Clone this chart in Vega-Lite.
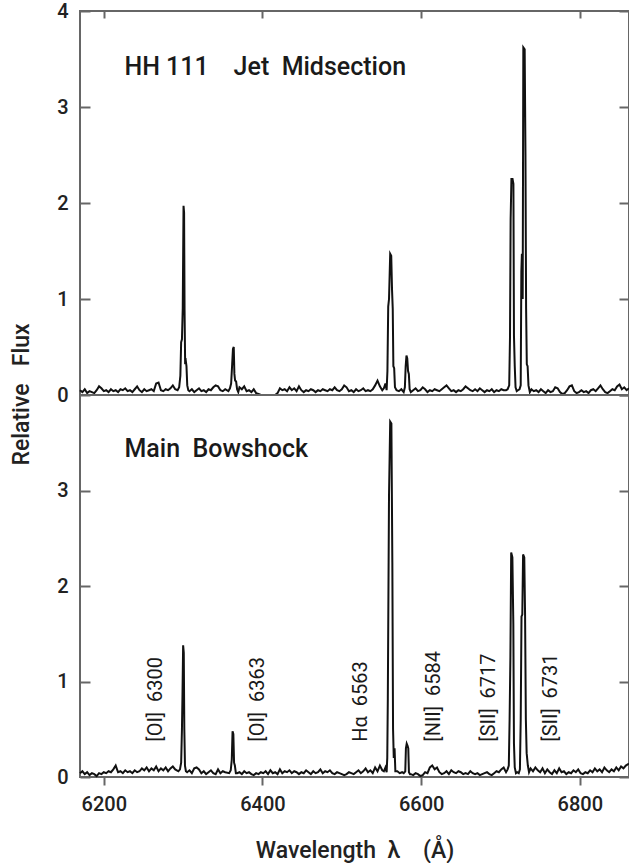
{
  "$schema": "https://vega.github.io/schema/vega-lite/v6.json",
  "background": "white",
  "padding": {"left": 9, "top": 0, "right": 0, "bottom": 0},
  "spacing": 0,
  "bounds": "flush",
  "config": {
    "view": {"stroke": "#666", "strokeWidth": 2},
    "axis": {
      "labelFont": "Roboto", "labelFontSize": 20, "labelFontWeight": 500, "labelColor": "#222",
      "tickColor": "#666", "tickWidth": 2, "domain": false, "grid": false,
      "titleFont": "Roboto", "titleFontSize": 23, "titleFontWeight": 500, "titleColor": "#222",
      "labelFlush": false
    },
    "text": {"font": "Roboto", "fontWeight": 500, "color": "#1a1a1a"}
  },
  "datasets": {
    "jet": [
      {"w":6170,"f":0.05},{"w":6173,"f":0.03},{"w":6176,"f":0.06},{"w":6179,"f":0.02},{"w":6182,"f":0.04},{"w":6185,"f":0.03},{"w":6188,"f":0.02},{"w":6191,"f":0.05},{"w":6194,"f":0.09},{"w":6197,"f":0.07},
      {"w":6200,"f":0.04},{"w":6203,"f":0.05},{"w":6206,"f":0.03},{"w":6209,"f":0.06},{"w":6212,"f":0.04},{"w":6215,"f":0.05},{"w":6218,"f":0.03},{"w":6221,"f":0.06},{"w":6224,"f":0.05},{"w":6227,"f":0.07},
      {"w":6230,"f":0.04},{"w":6233,"f":0.05},{"w":6236,"f":0.03},{"w":6239,"f":0.06},{"w":6242,"f":0.09},{"w":6245,"f":0.05},{"w":6248,"f":0.03},{"w":6251,"f":0.06},{"w":6254,"f":0.04},{"w":6257,"f":0.05},
      {"w":6260,"f":0.06},{"w":6263,"f":0.04},{"w":6266,"f":0.12},{"w":6269,"f":0.13},{"w":6272,"f":0.05},{"w":6275,"f":0.04},{"w":6278,"f":0.06},{"w":6281,"f":0.05},{"w":6284,"f":0.07},{"w":6287,"f":0.10},{"w":6290,"f":0.06},
      {"w":6293,"f":0.05},{"w":6295,"f":0.08},{"w":6296.5,"f":0.2},{"w":6297.5,"f":0.55},{"w":6298.5,"f":0.58},{"w":6299.5,"f":0.9},{"w":6300.5,"f":1.97},{"w":6301.2,"f":1.9},{"w":6301.8,"f":0.88},{"w":6302.5,"f":0.35},{"w":6303.3,"f":0.36},{"w":6304.2,"f":0.3},{"w":6305.2,"f":0.1},{"w":6306.5,"f":0.05},
      {"w":6308,"f":0.04},{"w":6311,"f":0.06},{"w":6314,"f":0.03},{"w":6317,"f":0.05},{"w":6320,"f":0.07},{"w":6323,"f":0.04},{"w":6326,"f":0.05},{"w":6329,"f":0.03},{"w":6332,"f":0.06},{"w":6335,"f":0.05},
      {"w":6338,"f":0.08},{"w":6341,"f":0.10},{"w":6344,"f":0.09},{"w":6347,"f":0.05},{"w":6350,"f":0.04},{"w":6353,"f":0.06},
      {"w":6357,"f":0.04},{"w":6359,"f":0.07},{"w":6360.5,"f":0.12},{"w":6361.8,"f":0.32},{"w":6362.8,"f":0.48},{"w":6363.8,"f":0.5},{"w":6364.6,"f":0.22},{"w":6365.5,"f":0.15},{"w":6366.8,"f":0.14},{"w":6368,"f":0.06},{"w":6369.5,"f":0.03},
      {"w":6371,"f":0.08},{"w":6374,"f":0.06},{"w":6377,"f":0.09},{"w":6380,"f":0.04},{"w":6383,"f":0.05},{"w":6386,"f":0.03},{"w":6389,"f":0.06},{"w":6392,"f":0.02},{"w":6395,"f":0.01},{"w":6398,"f":0},
      {"w":6401,"f":0},{"w":6404,"f":0},{"w":6407,"f":0},{"w":6410,"f":0},{"w":6413,"f":0},{"w":6416,"f":0},{"w":6419,"f":0.02},{"w":6422,"f":0.07},{"w":6425,"f":0.05},{"w":6428,"f":0.06},
      {"w":6431,"f":0.04},{"w":6434,"f":0.08},{"w":6437,"f":0.05},{"w":6440,"f":0.07},{"w":6443,"f":0.04},{"w":6446,"f":0.09},{"w":6449,"f":0.05},{"w":6452,"f":0.03},{"w":6455,"f":0.05},{"w":6458,"f":0.04},
      {"w":6461,"f":0.06},{"w":6464,"f":0.05},{"w":6467,"f":0.03},{"w":6470,"f":0.05},{"w":6473,"f":0.04},{"w":6476,"f":0.06},{"w":6479,"f":0.05},{"w":6482,"f":0.04},{"w":6485,"f":0.06},{"w":6488,"f":0.05},
      {"w":6491,"f":0.08},{"w":6494,"f":0.05},{"w":6497,"f":0.04},{"w":6500,"f":0.06},{"w":6503,"f":0.10},{"w":6506,"f":0.08},{"w":6509,"f":0.04},{"w":6512,"f":0.05},{"w":6515,"f":0.03},{"w":6518,"f":0.06},
      {"w":6521,"f":0.04},{"w":6524,"f":0.05},{"w":6527,"f":0.07},{"w":6530,"f":0.04},{"w":6533,"f":0.05},{"w":6536,"f":0.04},{"w":6539,"f":0.06},{"w":6542,"f":0.10},{"w":6545,"f":0.15},{"w":6548,"f":0.09},{"w":6551,"f":0.05},
      {"w":6553,"f":0.07},{"w":6555,"f":0.12},{"w":6556.5,"f":0.05},{"w":6557.5,"f":0.25},{"w":6558.5,"f":0.92},{"w":6559.5,"f":1.0},{"w":6561,"f":1.47},{"w":6562.3,"f":1.45},{"w":6563.3,"f":1.1},{"w":6564.2,"f":0.9},{"w":6565,"f":0.3},{"w":6566,"f":0.28},{"w":6567,"f":0.08},
      {"w":6569,"f":0.05},{"w":6572,"f":0.04},{"w":6575,"f":0.06},
      {"w":6578,"f":0.03},{"w":6579.5,"f":0.08},{"w":6580.5,"f":0.3},{"w":6581.5,"f":0.41},{"w":6582.5,"f":0.38},{"w":6583.5,"f":0.25},{"w":6584.5,"f":0.22},{"w":6585.5,"f":0.06},{"w":6587,"f":0.03},
      {"w":6590,"f":0.05},{"w":6593,"f":0.07},{"w":6596,"f":0.04},{"w":6599,"f":0.05},{"w":6602,"f":0.08},{"w":6605,"f":0.06},{"w":6608,"f":0.03},{"w":6611,"f":0.05},{"w":6614,"f":0.04},{"w":6617,"f":0.06},
      {"w":6620,"f":0.05},{"w":6623,"f":0.04},{"w":6626,"f":0.06},{"w":6629,"f":0.08},{"w":6632,"f":0.10},{"w":6635,"f":0.07},{"w":6638,"f":0.04},{"w":6641,"f":0.05},{"w":6644,"f":0.03},{"w":6647,"f":0.05},
      {"w":6650,"f":0.04},{"w":6653,"f":0.06},{"w":6656,"f":0.09},{"w":6659,"f":0.07},{"w":6662,"f":0.05},{"w":6665,"f":0.04},{"w":6668,"f":0.06},{"w":6671,"f":0.04},{"w":6674,"f":0.07},{"w":6677,"f":0.05},
      {"w":6680,"f":0.03},{"w":6683,"f":0.05},{"w":6686,"f":0.04},{"w":6689,"f":0.06},{"w":6692,"f":0.03},{"w":6695,"f":0.05},{"w":6698,"f":0.04},{"w":6701,"f":0.06},{"w":6704,"f":0.05},
      {"w":6707,"f":0.05},{"w":6709,"f":0.06},{"w":6711,"f":0.1},{"w":6712,"f":0.6},{"w":6712.8,"f":1.83},{"w":6713.8,"f":2.25},{"w":6715.2,"f":2.25},{"w":6716.3,"f":2.2},{"w":6717,"f":0.62},{"w":6718,"f":0.3},{"w":6719,"f":0.08},{"w":6720.5,"f":0.04},
      {"w":6722,"f":0.05},{"w":6724,"f":0.06},{"w":6725.5,"f":0.1},{"w":6726.3,"f":1.28},{"w":6727,"f":1.47},{"w":6728,"f":1.0},{"w":6728.8,"f":3.62},{"w":6730.5,"f":3.6},{"w":6731.5,"f":2.5},{"w":6732.3,"f":0.9},{"w":6733.2,"f":0.32},{"w":6734.2,"f":0.3},{"w":6735.3,"f":0.1},{"w":6737,"f":0.03},
      {"w":6739,"f":0.06},{"w":6742,"f":0.04},{"w":6745,"f":0.05},{"w":6748,"f":0.03},{"w":6751,"f":0.06},{"w":6754,"f":0.04},{"w":6757,"f":0.02},{"w":6760,"f":0.05},{"w":6763,"f":0.03},{"w":6766,"f":0.04},
      {"w":6769,"f":0.08},{"w":6772,"f":0.07},{"w":6775,"f":0.03},{"w":6778,"f":0.01},{"w":6781,"f":0.02},{"w":6784,"f":0.05},{"w":6787,"f":0.09},{"w":6790,"f":0.10},{"w":6793,"f":0.04},{"w":6796,"f":0.02},
      {"w":6799,"f":0.03},{"w":6802,"f":0.05},{"w":6805,"f":0.03},{"w":6808,"f":0.04},{"w":6811,"f":0.02},{"w":6814,"f":0.05},{"w":6817,"f":0.06},{"w":6820,"f":0.04},{"w":6823,"f":0.07},{"w":6826,"f":0.10},
      {"w":6829,"f":0.06},{"w":6832,"f":0.03},{"w":6835,"f":0.02},{"w":6838,"f":0.04},{"w":6841,"f":0.06},{"w":6844,"f":0.05},{"w":6847,"f":0.09},{"w":6850,"f":0.11},{"w":6853,"f":0.06},{"w":6856,"f":0.08},{"w":6859,"f":0.05},{"w":6862,"f":0.07}
    ],
    "bow": [
      {"w":6170,"f":0.04},{"w":6173,"f":0.06},{"w":6176,"f":0.03},{"w":6179,"f":0.05},{"w":6182,"f":0.02},{"w":6185,"f":0.04},{"w":6188,"f":0.03},{"w":6191,"f":0.01},{"w":6194,"f":0.04},{"w":6197,"f":0.03},
      {"w":6200,"f":0.05},{"w":6203,"f":0.04},{"w":6206,"f":0.06},{"w":6209,"f":0.05},{"w":6212,"f":0.08},{"w":6215,"f":0.12},{"w":6218,"f":0.05},{"w":6221,"f":0.06},{"w":6224,"f":0.04},{"w":6227,"f":0.07},
      {"w":6230,"f":0.05},{"w":6233,"f":0.06},{"w":6236,"f":0.04},{"w":6239,"f":0.07},{"w":6242,"f":0.05},{"w":6245,"f":0.06},{"w":6248,"f":0.09},{"w":6251,"f":0.07},{"w":6254,"f":0.10},{"w":6257,"f":0.06},
      {"w":6260,"f":0.09},{"w":6263,"f":0.07},{"w":6266,"f":0.11},{"w":6269,"f":0.06},{"w":6272,"f":0.09},{"w":6275,"f":0.07},{"w":6278,"f":0.10},{"w":6281,"f":0.06},{"w":6284,"f":0.09},{"w":6287,"f":0.11},{"w":6290,"f":0.08},
      {"w":6294,"f":0.06},{"w":6296,"f":0.08},{"w":6297.5,"f":0.15},{"w":6298.5,"f":0.5},{"w":6299.2,"f":0.87},{"w":6300,"f":1.38},{"w":6300.8,"f":1.3},{"w":6301.5,"f":0.5},{"w":6302.3,"f":0.12},{"w":6303.5,"f":0.06},
      {"w":6305,"f":0.05},{"w":6308,"f":0.07},{"w":6311,"f":0.04},{"w":6314,"f":0.09},{"w":6317,"f":0.10},{"w":6320,"f":0.08},{"w":6323,"f":0.04},{"w":6326,"f":0.06},{"w":6329,"f":0.03},{"w":6332,"f":0.05},
      {"w":6335,"f":0.07},{"w":6338,"f":0.04},{"w":6341,"f":0.03},{"w":6344,"f":0.08},{"w":6347,"f":0.04},{"w":6350,"f":0.06},{"w":6353,"f":0.05},
      {"w":6358,"f":0.04},{"w":6360,"f":0.07},{"w":6361.3,"f":0.18},{"w":6362.3,"f":0.48},{"w":6363.3,"f":0.45},{"w":6364.2,"f":0.15},{"w":6365.2,"f":0.12},{"w":6366.5,"f":0.04},
      {"w":6368,"f":0.04},{"w":6371,"f":0.05},{"w":6374,"f":0.03},{"w":6377,"f":0.06},{"w":6380,"f":0.04},{"w":6383,"f":0.05},{"w":6386,"f":0.03},{"w":6389,"f":0.02},{"w":6392,"f":0.04},{"w":6395,"f":0.03},
      {"w":6398,"f":0.05},{"w":6401,"f":0.04},{"w":6404,"f":0.06},{"w":6407,"f":0.03},{"w":6410,"f":0.07},{"w":6413,"f":0.04},{"w":6416,"f":0.05},{"w":6419,"f":0.03},{"w":6422,"f":0.08},{"w":6425,"f":0.04},
      {"w":6428,"f":0.06},{"w":6431,"f":0.05},{"w":6434,"f":0.07},{"w":6437,"f":0.04},{"w":6440,"f":0.06},{"w":6443,"f":0.05},{"w":6446,"f":0.03},{"w":6449,"f":0.05},{"w":6452,"f":0.04},{"w":6455,"f":0.07},
      {"w":6458,"f":0.05},{"w":6461,"f":0.03},{"w":6464,"f":0.06},{"w":6467,"f":0.04},{"w":6470,"f":0.05},{"w":6473,"f":0.08},{"w":6476,"f":0.04},{"w":6479,"f":0.06},{"w":6482,"f":0.05},{"w":6485,"f":0.07},
      {"w":6488,"f":0.04},{"w":6491,"f":0.03},{"w":6494,"f":0.05},{"w":6497,"f":0.04},{"w":6500,"f":0.03},{"w":6503,"f":0.02},{"w":6506,"f":0.03},{"w":6509,"f":0.05},{"w":6512,"f":0.04},{"w":6515,"f":0.03},
      {"w":6518,"f":0.05},{"w":6521,"f":0.07},{"w":6524,"f":0.04},{"w":6527,"f":0.06},{"w":6530,"f":0.09},{"w":6533,"f":0.05},{"w":6536,"f":0.07},{"w":6539,"f":0.04},{"w":6542,"f":0.10},{"w":6545,"f":0.06},{"w":6548,"f":0.12},{"w":6551,"f":0.07},
      {"w":6553,"f":0.06},{"w":6555,"f":0.1},{"w":6556.5,"f":0.05},{"w":6557.3,"f":0.2},{"w":6558,"f":0.82},{"w":6559.5,"f":2.95},{"w":6561,"f":3.72},{"w":6562.5,"f":3.7},{"w":6563.7,"f":2.25},{"w":6564.6,"f":0.5},{"w":6565.5,"f":0.2},{"w":6566.5,"f":0.3},{"w":6567.5,"f":0.06},
      {"w":6570,"f":0.06},{"w":6573,"f":0.04},{"w":6576,"f":0.05},
      {"w":6578,"f":0.04},{"w":6580,"f":0.06},{"w":6580.8,"f":0.3},{"w":6581.8,"f":0.35},{"w":6582.8,"f":0.33},{"w":6583.8,"f":0.3},{"w":6584.6,"f":0.05},{"w":6586,"f":0.03},
      {"w":6587,"f":0.03},{"w":6590,"f":0.02},{"w":6593,"f":0.04},{"w":6596,"f":0.03},{"w":6599,"f":0.01},{"w":6602,"f":0.02},{"w":6605,"f":0.05},{"w":6608,"f":0.04},{"w":6611,"f":0.10},{"w":6614,"f":0.12},
      {"w":6617,"f":0.08},{"w":6620,"f":0.10},{"w":6623,"f":0.05},{"w":6626,"f":0.03},{"w":6629,"f":0.04},{"w":6632,"f":0.06},{"w":6635,"f":0.03},{"w":6638,"f":0.07},{"w":6641,"f":0.05},{"w":6644,"f":0.04},
      {"w":6647,"f":0.06},{"w":6650,"f":0.05},{"w":6653,"f":0.03},{"w":6656,"f":0.04},{"w":6659,"f":0.03},{"w":6662,"f":0.06},{"w":6665,"f":0.04},{"w":6668,"f":0.03},{"w":6671,"f":0.04},{"w":6674,"f":0.02},
      {"w":6677,"f":0.03},{"w":6680,"f":0.04},{"w":6683,"f":0.05},{"w":6686,"f":0.03},{"w":6689,"f":0.02},{"w":6692,"f":0.04},{"w":6695,"f":0.06},{"w":6698,"f":0.05},{"w":6701,"f":0.08},{"w":6704,"f":0.10},
      {"w":6707,"f":0.05},{"w":6709,"f":0.08},{"w":6710.5,"f":0.12},{"w":6711.5,"f":0.6},{"w":6712.5,"f":1.25},{"w":6713.5,"f":2.35},{"w":6715,"f":2.3},{"w":6716.2,"f":1.6},{"w":6717,"f":0.35},{"w":6718,"f":0.1},{"w":6719.5,"f":0.04},
      {"w":6721,"f":0.05},{"w":6723,"f":0.04},{"w":6724.5,"f":0.08},{"w":6725.5,"f":0.6},{"w":6726.5,"f":1.68},{"w":6727.5,"f":1.7},{"w":6728.5,"f":2.33},{"w":6730,"f":2.3},{"w":6731,"f":1.7},{"w":6732,"f":0.6},{"w":6733,"f":0.25},{"w":6734.5,"f":0.12},{"w":6736,"f":0.05},
      {"w":6738,"f":0.09},{"w":6741,"f":0.06},{"w":6744,"f":0.10},{"w":6747,"f":0.07},{"w":6750,"f":0.05},{"w":6753,"f":0.09},{"w":6756,"f":0.04},{"w":6759,"f":0.08},{"w":6762,"f":0.05},{"w":6765,"f":0.03},
      {"w":6768,"f":0.07},{"w":6771,"f":0.04},{"w":6774,"f":0.09},{"w":6777,"f":0.05},{"w":6780,"f":0.06},{"w":6783,"f":0.03},{"w":6786,"f":0.05},{"w":6789,"f":0.04},{"w":6792,"f":0.07},{"w":6795,"f":0.05},
      {"w":6798,"f":0.08},{"w":6801,"f":0.04},{"w":6804,"f":0.03},{"w":6807,"f":0.05},{"w":6810,"f":0.04},{"w":6813,"f":0.07},{"w":6816,"f":0.05},{"w":6819,"f":0.09},{"w":6822,"f":0.06},{"w":6825,"f":0.08},
      {"w":6828,"f":0.05},{"w":6831,"f":0.10},{"w":6834,"f":0.07},{"w":6837,"f":0.05},{"w":6840,"f":0.08},{"w":6843,"f":0.06},{"w":6846,"f":0.10},{"w":6849,"f":0.07},{"w":6852,"f":0.11},{"w":6855,"f":0.09},{"w":6858,"f":0.12},{"w":6862,"f":0.14}
    ],
    "lines": [
      {"label": "[OI]\u00a0\u00a06300", "pos": 6266},
      {"label": "[OI]\u00a0\u00a06363", "pos": 6394},
      {"label": "Hα\u00a0\u00a06563", "pos": 6524},
      {"label": "[NII]\u00a0\u00a06584", "pos": 6616},
      {"label": "[SII]\u00a0\u00a06717", "pos": 6685},
      {"label": "[SII]\u00a0\u00a06731", "pos": 6764}
    ]
  },
  "vconcat": [
    {
      "width": 549,
      "height": 384,
      "layer": [
        {
          "data": {"name": "jet"},
          "mark": {"type": "line", "color": "#111", "strokeWidth": 2},
          "encoding": {
            "x": {"field": "w", "type": "quantitative", "scale": {"domain": [6170, 6862], "nice": false, "zero": false},
                  "axis": {"orient": "top", "values": [6200, 6400, 6600, 6800], "labels": false, "tickSize": -7, "title": null}},
            "y": {"field": "f", "type": "quantitative", "scale": {"domain": [0, 4], "nice": false},
                  "axis": {"values": [0, 1, 2, 3, 4], "tickSize": -10, "labelPadding": 22, "title": "Relative\u00a0\u00a0\u00a0Flux", "titleX": -47, "titleY": 383}}
          }
        },
        {
          "data": {"values": [{}]},
          "mark": {"type": "text", "text": "HH 111\u00a0\u00a0\u00a0\u00a0Jet\u00a0\u00a0Midsection", "align": "left", "baseline": "alphabetic", "fontSize": 25},
          "encoding": {
            "x": {"datum": 6226, "type": "quantitative"},
            "y": {"datum": 3.33, "type": "quantitative", "scale": {"domain": [0, 4], "nice": false},
                  "axis": {"orient": "right", "values": [0, 1, 2, 3, 4], "labels": false, "tickSize": -10, "title": null}}
          }
        }
      ],
      "resolve": {"scale": {"y": "independent"}, "axis": {"y": "independent"}}
    },
    {
      "width": 549,
      "height": 382,
      "layer": [
        {
          "data": {"name": "bow"},
          "mark": {"type": "line", "color": "#111", "strokeWidth": 2},
          "encoding": {
            "x": {"field": "w", "type": "quantitative", "scale": {"domain": [6170, 6862], "nice": false, "zero": false},
                  "axis": {"orient": "bottom", "values": [6200, 6400, 6600, 6800], "format": "d", "tickSize": 8, "labelPadding": 9, "titlePadding": 25, "title": "Wavelength\u00a0\u00a0λ\u00a0\u00a0\u00a0\u00a0(Å)"}},
            "y": {"field": "f", "type": "quantitative", "scale": {"domain": [0, 4], "nice": false},
                  "axis": {"values": [0, 1, 2, 3], "tickSize": -10, "labelPadding": 22, "title": null}}
          }
        },
        {
          "data": {"name": "lines"},
          "mark": {"type": "text", "angle": 270, "align": "left", "baseline": "middle", "fontSize": 20, "fontWeight": "normal"},
          "encoding": {
            "x": {"field": "pos", "type": "quantitative", "title": "Wavelength\u00a0\u00a0λ\u00a0\u00a0\u00a0\u00a0(Å)"},
            "y": {"datum": 0.37, "type": "quantitative", "scale": {"domain": [0, 4], "nice": false},
                  "axis": {"orient": "right", "values": [0, 1, 2, 3, 4], "labels": false, "tickSize": -10, "title": null}},
            "text": {"field": "label"}
          }
        },
        {
          "data": {"values": [{}]},
          "mark": {"type": "text", "text": "Main\u00a0\u00a0Bowshock", "align": "left", "baseline": "alphabetic", "fontSize": 25},
          "encoding": {
            "x": {"datum": 6226, "type": "quantitative"},
            "y": {"datum": 3.35, "type": "quantitative", "scale": {"domain": [0, 4], "nice": false}, "axis": null}
          }
        }
      ],
      "resolve": {"scale": {"y": "independent"}, "axis": {"y": "independent"}}
    }
  ]
}
